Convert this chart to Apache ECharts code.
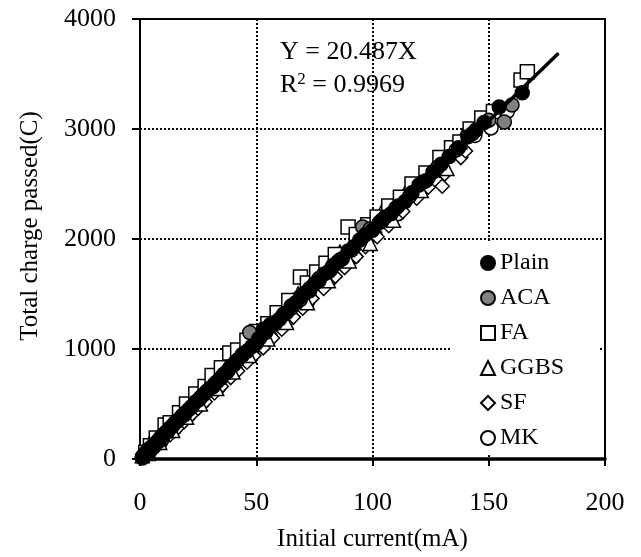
<!DOCTYPE html>
<html>
<head>
<meta charset="utf-8">
<script src="https://cdn.jsdelivr.net/npm/echarts@6.0.0/dist/echarts.min.js"></script>
<style>
  html, body { margin: 0; padding: 0; background: #fff; }
  #ec { width: 641px; height: 557px; }
</style>
</head>
<body>
<div id="ec"></div>
<script>
// initial current (mA) vs total charge passed (C)
var plain = [
  [1, 20], [1.5, 30], [2.5, 45], [3, 70], [4, 85], [5, 110], [6, 120], [7, 150], [8, 160],
  [9, 200], [10, 215], [11, 240], [12, 250], [13, 285], [14, 300], [15, 330], [16.5, 355],
  [18, 390], [19.5, 420], [21, 450], [22.5, 480], [24, 520], [25.5, 540], [27, 580],
  [28.5, 610], [30, 640], [31.5, 660], [33, 700], [34.5, 730], [36, 770], [37.5, 790],
  [39, 840], [40.5, 860], [42, 900], [44, 940], [46, 980], [48, 1020], [50, 1050],
  [51.5, 1100], [53, 1180], [54.5, 1170], [56, 1220], [58, 1240], [60, 1270], [61.5, 1310],
  [63, 1330], [65, 1390], [67, 1420], [69, 1470], [71, 1510], [73, 1530], [75, 1590],
  [77, 1620], [79, 1680], [81, 1700], [83, 1760], [85, 1790], [87, 1820], [89.5, 1890],
  [92, 1930], [94.5, 1990], [97, 2040], [100, 2080], [103, 2150], [105.5, 2200],
  [108, 2230], [111, 2300], [114, 2340], [117, 2420], [120, 2490], [123, 2530],
  [126, 2610], [129.5, 2680], [133, 2750], [137, 2830], [141, 2930], [144.5, 2990],
  [148, 3060], [154.5, 3200], [164.4, 3330]
];
var aca = [
  [2, 45], [4, 90], [6, 130], [8, 170], [10, 215], [12, 260], [16, 345], [19, 400],
  [22, 470], [26, 560], [29, 620], [32, 680], [35, 740], [38, 810], [41, 880], [44, 950],
  [47.2, 1150], [51, 1090], [54, 1150], [58, 1230], [62, 1320], [65, 1370], [69, 1450],
  [73, 1550], [77, 1640], [82, 1720], [86, 1810], [91, 1900], [95.8, 2110], [99, 2090],
  [104, 2170], [110, 2280], [116, 2390], [122, 2520], [128, 2650], [136, 2810],
  [143, 2960], [150, 3080], [156.7, 3064], [160, 3218]
];
var fa = [
  [2.5, 60], [4.5, 120], [7, 190], [10.8, 309], [13, 330], [17, 420], [20, 500], [24, 590],
  [28, 660], [31, 760], [35, 830], [38.6, 964], [42, 990], [46, 1080], [50, 1160],
  [55, 1230], [59, 1330], [64, 1440], [69, 1655], [72, 1600], [76, 1700], [80, 1780],
  [84, 1860], [89.5, 2109], [93, 2040], [98, 2130], [102, 2200], [107, 2300], [112, 2380],
  [117, 2500], [123, 2600], [129, 2740], [134, 2830], [137.6, 2882], [142, 3000],
  [147, 3100], [152, 3160], [163.9, 3445], [166.6, 3520]
];
var ggbs = [
  [1, 30], [3.5, 50], [6, 150], [8.5, 150], [11.5, 280], [14, 260], [17, 400], [20, 380],
  [23, 540], [26, 500], [30, 680], [33, 640], [37, 830], [40, 790], [43, 960], [47, 940],
  [51, 1130], [55, 1090], [59, 1300], [63, 1240], [68, 1500], [72, 1420], [76, 1660],
  [81, 1620], [86, 1880], [90, 1800], [94, 2060], [99, 1960], [104, 2250], [109, 2170],
  [115, 2460], [121, 2440], [127, 2680], [132, 2640], [139, 2940]
];
var sf = [
  [2, 20], [5, 70], [7.5, 120], [10, 170], [13, 220], [16, 280], [19, 340], [22, 400],
  [25, 460], [28, 520], [32, 600], [35, 660], [39, 740], [42, 800], [46, 880], [49, 940],
  [53, 1010], [57, 1100], [61, 1180], [66, 1290], [70, 1370], [74, 1460], [79, 1550],
  [84, 1660], [88, 1740], [93, 1840], [97, 1930], [102, 2020], [107, 2120], [113, 2250],
  [119, 2370], [124, 2470], [130, 2480], [131, 2590], [138, 2740], [140, 2800]
];
var mk = [
  [1, 10], [2.5, 70], [4, 60], [6.5, 170], [9, 160], [12, 290], [15, 280], [18, 420],
  [21, 400], [24, 540], [27, 520], [31, 690], [34, 660], [37, 820], [41, 810], [44, 980],
  [48, 960], [52, 1140], [56, 1110], [60, 1300], [64, 1280], [68, 1460], [72, 1430],
  [77, 1650], [82, 1640], [87, 1850], [92, 1840], [96, 2020], [101, 2040], [106, 2200],
  [111, 2230], [117, 2400], [124, 2560], [130, 2620], [137, 2790], [144, 2940],
  [151, 3010], [158, 3160]
];
// fitted line Y = 20.487X, drawn from 0 to 180 mA
var trendLine = [[0, 0], [180, 3688]];

var names = ["Plain", "ACA", "FA", "GGBS", "SF", "MK"];

var font = "'Liberation Serif', 'Times New Roman', serif";
var dotted = { color: "#000", width: 2, type: [2, 2] };

// later legend entries sit lower, so the black dots end up on top like the original
function marker(name, data, symbol, fill, z) {
  return {
    name: name,
    type: "scatter",
    data: data,
    symbol: symbol,
    symbolSize: 14,
    z: z,
    itemStyle: { color: fill, borderColor: "#000", borderWidth: 1.5, opacity: 1 },
  };
}

var myChart = echarts.init(document.getElementById("ec"), null, { renderer: "canvas" });

myChart.setOption({
  animation: false,
  backgroundColor: "#fff",
  textStyle: { fontFamily: font },
  grid: {
    left: 140,
    right: 36,
    top: 19,
    bottom: 98,
    show: true,
    borderColor: "#000",
    borderWidth: 2,
  },
  title: {
    left: 280,
    top: 36,
    padding: 0,
    text: "Y = 20.487X\nR{sup|2} = 0.9969",
    textStyle: {
      fontFamily: font,
      fontWeight: "normal",
      fontSize: 26,
      lineHeight: 33,
      color: "#000",
      rich: {
        sup: { fontFamily: font, fontSize: 17, padding: [0, 0, 12, 0], color: "#000" },
      },
    },
  },
  legend: {
    data: names,
    orient: "vertical",
    left: 450,
    top: 242,
    padding: [9, 34, 5, 30],
    backgroundColor: "#fff",
    itemWidth: 14,
    itemHeight: 14,
    itemGap: 11,
    textStyle: { fontFamily: font, fontSize: 24, lineHeight: 24, color: "#000" },
  },
  xAxis: {
    type: "value",
    min: 0,
    max: 200,
    interval: 50,
    name: "Initial current(mA)",
    nameLocation: "middle",
    nameGap: 68,
    nameTextStyle: { fontFamily: font, fontSize: 25, color: "#000" },
    axisLine: { onZero: false, lineStyle: { color: "#000", width: 3.5 } },
    axisTick: { length: 7, lineStyle: { color: "#000", width: 2 } },
    axisLabel: { margin: 31, fontFamily: font, fontSize: 26, color: "#000" },
    splitLine: { lineStyle: dotted },
  },
  yAxis: {
    type: "value",
    min: 0,
    max: 4000,
    interval: 1000,
    axisLine: { show: true, onZero: false, lineStyle: { color: "#000", width: 2 } },
    axisTick: { show: true, length: 8, lineStyle: { color: "#000", width: 2 } },
    axisLabel: {
      margin: 24,
      fontFamily: font,
      fontSize: 26,
      color: "#000",
      formatter: function (v) {
        return String(v);
      },
    },
    splitLine: { lineStyle: dotted },
  },
  graphic: [
    {
      type: "text",
      x: 30,
      y: 226,
      rotation: Math.PI / 2,
      style: {
        text: "Total charge passed(C)",
        font: "25px " + font,
        fill: "#000",
        align: "center",
        verticalAlign: "middle",
      },
    },
  ],
  series: [
    marker("Plain", plain, "circle", "#000", 7),
    marker("ACA", aca, "circle", "#808080", 6),
    marker("FA", fa, "rect", "#fff", 5),
    marker("GGBS", ggbs, "triangle", "#fff", 4),
    marker("SF", sf, "diamond", "#fff", 3),
    marker("MK", mk, "circle", "#fff", 2),
    {
      name: "fit",
      type: "line",
      data: trendLine,
      showSymbol: false,
      symbol: "none",
      lineStyle: { color: "#000", width: 3.5 },
      z: 8,
    },
  ],
});
</script>
</body>
</html>
